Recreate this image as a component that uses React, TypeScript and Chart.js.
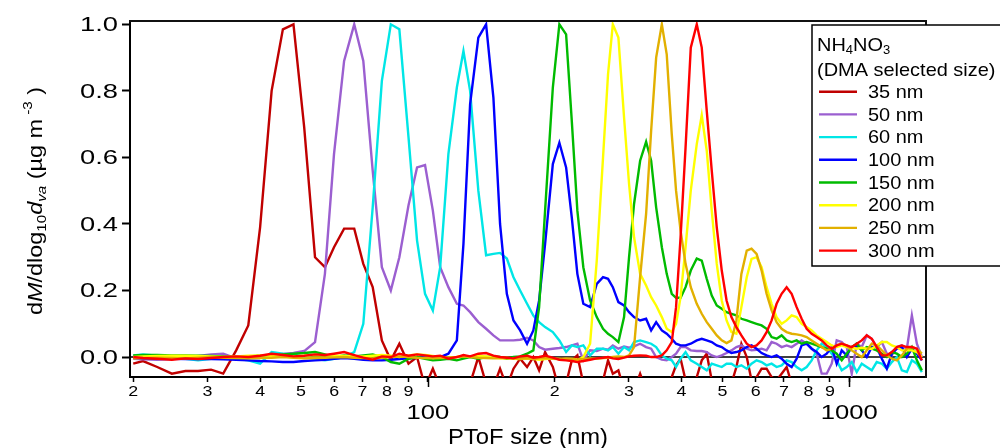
import React, { useEffect, useRef } from "react";
import { Chart, registerables } from "chart.js";

Chart.register(...registerables);

// PToF size bins (nm)
const sizes = [
  20.0, 21.1, 22.8, 24.7, 26.6, 28.5, 30.6, 32.7, 35.1, 37.5,
  40.0, 42.6, 45.3, 48.0, 50.9, 54.0, 57.0, 59.9, 63.3, 66.9,
  70.3, 74.0, 77.8, 81.7, 85.6, 90.0, 94.3, 98.5, 102.8, 107.0,
  111.9, 117.2, 121.5, 126.0, 131.8, 137.5, 143.1, 148.4, 154.0, 159.7,
  165.6, 172.0, 178.0, 183.7, 189.8, 198.0, 205.2, 212.9, 219.6, 226.4,
  233.9, 242.7, 251.7, 260.5, 267.7, 274.8, 283.3, 292.2, 300.3, 308.6,
  319.0, 329.6, 338.8, 348.2, 359.2, 368.9, 379.2, 388.2, 397.9, 408.9,
  420.7, 434.7, 446.7, 459.1, 471.8, 484.9, 498.3, 511.6, 525.3, 539.8,
  554.7, 571.2, 586.3, 602.7, 619.5, 636.6, 654.3, 672.4, 691.1, 710.3,
  730.0, 750.2, 771.0, 792.4, 814.4, 837.0, 860.2, 884.1, 908.6, 933.8,
  959.7, 986.3, 1013.7, 1041.8, 1070.7, 1100.4, 1131, 1162, 1195, 1228,
  1262, 1297, 1333, 1370, 1408, 1447, 1487,
];

const s35 = [
  -0.02, -0.012, -0.03, -0.05, -0.042, -0.042, -0.038, -0.05, 0.02, 0.095,
  0.39, 0.8, 0.985, 1.0, 0.69, 0.3, 0.27, 0.33, 0.386, 0.386,
  0.28, 0.21, 0.05, -0.01, 0.04, -0.02, 0.0, -0.09, -0.035, -0.09,
  -0.1, -0.09, -0.1, -0.08, 0.0, -0.08, -0.09, -0.035, -0.09, -0.035,
  -0.005, -0.03, 0.0, -0.04, 0.015, -0.03, -0.1, -0.08, -0.01, 0.005,
  -0.08, -0.1, -0.09, -0.07, -0.01, -0.05, -0.04, -0.1, -0.09, -0.1,
  -0.05, -0.1, -0.1, -0.09, -0.1, -0.08, -0.06, -0.025, -0.005, -0.07,
  -0.09, -0.06, -0.01, 0.01, -0.07, -0.1, -0.09, -0.1, -0.08, -0.03,
  0.04, 0.0, -0.07, -0.06, -0.035, -0.035, -0.06, -0.07, -0.05, -0.03,
  -0.08, -0.1, -0.11, -0.1, -0.12, -0.1, -0.11, -0.12, -0.1, -0.11,
  -0.1, -0.12, -0.11, -0.1, -0.12, -0.11, -0.1, -0.12, -0.11, -0.1,
  -0.12, -0.1, -0.11, -0.12, -0.1, -0.11, -0.12,
];

const s50 = [
  -0.005, -0.007, -0.008, -0.006, -0.002, 0.003, 0.008, 0.01, -0.004, 0.0,
  0.002, 0.005, 0.009, 0.012, 0.018, 0.045, 0.25, 0.61, 0.89, 1.0,
  0.89, 0.56, 0.27, 0.2, 0.3, 0.456, 0.57, 0.577, 0.44, 0.27,
  0.21, 0.16, 0.155, 0.135, 0.105, 0.085, 0.065, 0.05, 0.05, 0.05,
  0.052, 0.058, 0.05, 0.03, 0.022, 0.025, 0.027, 0.03, 0.035, 0.04,
  -0.01, 0.02, 0.018, 0.025, 0.022, 0.035, 0.025, 0.032, 0.028, 0.032,
  0.04, 0.03, 0.025, 0.0, -0.008, -0.01, 0.0, 0.01, 0.03, 0.03,
  0.02, 0.018, 0.018, 0.015, 0.005, 0.0, 0.005, 0.012, 0.02, 0.03,
  0.035, 0.025, 0.02, 0.022, 0.025, 0.02, 0.045, 0.04, 0.03, 0.035,
  0.03, 0.04, 0.05, 0.04, 0.025, 0.01, -0.05, -0.05, -0.02, 0.05,
  0.045, 0.03, -0.05, 0.04, 0.03, 0.065, 0.055, 0.03, 0.045, 0.01,
  0.005, 0.03, 0.035, 0.025, 0.125, 0.04, 0.0,
];

const s60 = [
  0.005, 0.008, 0.004, 0.0, -0.005, -0.01, -0.005, 0.0, -0.005, -0.01,
  -0.02, 0.015, 0.01, 0.008, 0.0, -0.005, -0.01, -0.005, 0.0, 0.015,
  0.1, 0.45, 0.83, 1.0, 0.985, 0.66, 0.35, 0.19, 0.14, 0.27,
  0.61, 0.81, 0.92, 0.8, 0.5, 0.306, 0.31, 0.313, 0.296, 0.24,
  0.2, 0.16, 0.125, 0.105, 0.09, 0.075, 0.05, 0.015, 0.035, 0.03,
  0.035, 0.005, 0.025, 0.025, 0.02, 0.03, 0.01, 0.03, 0.02, 0.045,
  0.05, 0.045, 0.04, 0.03, 0.005, -0.005, -0.01, -0.03, -0.005, 0.015,
  -0.01, -0.02, -0.03, -0.04, -0.02, -0.025, -0.03, -0.02, -0.02, -0.03,
  -0.025, -0.035, -0.02, -0.01, -0.015, -0.025, -0.02, -0.03, -0.025, -0.01,
  -0.015, -0.03, -0.04, -0.03, -0.01, 0.02, 0.04, 0.03, 0.01, -0.01,
  -0.04, -0.03, -0.015, -0.045, -0.02, -0.03, -0.04, -0.015, -0.02, -0.035,
  -0.015, 0.0, -0.04, -0.045, -0.01, -0.02, -0.045,
];

const s100 = [
  -0.002, -0.004, -0.005, -0.005, -0.006, -0.005, -0.006, -0.007, -0.008, -0.01,
  -0.012, -0.013, -0.015, -0.015, -0.012, -0.01, -0.008, -0.005, -0.003, -0.005,
  -0.008, -0.01, -0.01, -0.008, -0.006, -0.004, -0.002, 0.0, 0.0, 0.0,
  0.01, 0.05, 0.34, 0.76, 0.96, 1.0, 0.78, 0.4, 0.19, 0.11,
  0.08, 0.04, 0.08, 0.17, 0.34, 0.58, 0.644, 0.57, 0.42, 0.25,
  0.16, 0.15, 0.22, 0.24, 0.235, 0.21, 0.165, 0.155, 0.135, 0.12,
  0.11, 0.115, 0.08, 0.105, 0.08, 0.07, 0.055, 0.04, 0.035, 0.035,
  0.04, 0.05, 0.055, 0.05, 0.045, 0.035, 0.03, 0.02, 0.012, 0.015,
  0.02, 0.03, 0.035, 0.025, 0.012, 0.005, 0.0, 0.005, -0.005, -0.02,
  -0.03, -0.005, 0.035, 0.04, 0.025, 0.015, 0.0, 0.01, 0.03, -0.02,
  0.02, 0.005, 0.03, 0.035, 0.02, 0.0, 0.03, 0.03, -0.005, -0.035,
  0.01, 0.025, 0.03, 0.0, 0.025, 0.01, -0.01,
];

const s150 = [
  0.005, 0.006, 0.006, 0.005, 0.005, 0.004, 0.003, 0.002, 0.0, 0.002,
  0.004, 0.005, 0.008, 0.01, 0.012, 0.015, 0.008, 0.0, 0.005, 0.002,
  0.005, 0.008, 0.0, -0.015, -0.02, -0.005, 0.0, -0.005, -0.01, -0.008,
  -0.005, -0.01, -0.005, 0.0, -0.005, 0.0, 0.002, 0.0, -0.005, 0.0,
  0.002, 0.01, 0.02, 0.15, 0.44, 0.81, 1.0, 0.97, 0.71, 0.44,
  0.27, 0.17, 0.12, 0.085, 0.07, 0.06, 0.045, 0.12, 0.3, 0.46,
  0.59, 0.647, 0.59, 0.45, 0.33, 0.25, 0.19, 0.178, 0.178, 0.21,
  0.26, 0.296, 0.29, 0.235, 0.185, 0.155, 0.145, 0.135, 0.13, 0.125,
  0.115, 0.11, 0.105, 0.1, 0.095, 0.085, 0.06, 0.055, 0.065, 0.05,
  0.045, 0.05, 0.04, 0.045, 0.04, 0.035, 0.03, 0.025, 0.02, 0.01,
  -0.01, 0.01, 0.03, 0.04, 0.02, 0.03, 0.025, 0.02, 0.01, 0.0,
  0.015, 0.01, 0.0, 0.01, 0.03, -0.01, -0.04,
];

const s200 = [
  0.0, 0.002, 0.003, 0.004, 0.004, 0.003, 0.002, 0.0, 0.002, 0.004,
  0.005, 0.004, 0.003, 0.002, 0.004, 0.006, 0.005, 0.004, 0.003, 0.002,
  0.002, 0.004, 0.006, 0.004, 0.0, 0.005, 0.008, 0.006, 0.003, 0.0,
  -0.002, 0.0, 0.003, 0.002, 0.004, 0.002, -0.002, -0.004, -0.003, -0.005,
  -0.006, -0.004, -0.005, -0.008, -0.006, -0.004, -0.006, -0.008, -0.01, -0.01,
  0.0, 0.04, 0.29, 0.6, 0.85, 1.0, 0.96, 0.72, 0.52, 0.36,
  0.25, 0.215, 0.18, 0.155, 0.12, 0.085, 0.075, 0.1, 0.18, 0.33,
  0.5, 0.64, 0.727, 0.62, 0.44, 0.28, 0.17, 0.11, 0.075, 0.07,
  0.15, 0.24, 0.295, 0.3, 0.27, 0.21, 0.16, 0.12, 0.1, 0.11,
  0.125, 0.12, 0.1, 0.09, 0.08, 0.065, 0.055, 0.045, 0.035, 0.03,
  0.035, 0.03, 0.028, 0.025, 0.028, 0.025, 0.025, 0.035, 0.045, 0.045,
  0.035, 0.03, 0.02, 0.02, 0.02, 0.015, 0.0,
];

const s250 = [
  -0.004, -0.003, -0.002, -0.003, -0.004, -0.002, 0.0, -0.002, -0.003, -0.004,
  -0.003, -0.002, 0.0, -0.002, -0.004, -0.003, -0.002, -0.001, 0.0, -0.002,
  -0.003, -0.004, -0.002, 0.0, 0.002, 0.0, -0.002, -0.003, -0.004, -0.003,
  -0.002, 0.0, 0.002, 0.0, -0.002, -0.003, -0.004, -0.003, -0.002, -0.004,
  -0.005, -0.004, -0.006, -0.004, -0.003, -0.005, -0.006, -0.004, -0.005, -0.007,
  -0.006, -0.004, -0.005, -0.003, -0.002, 0.0, 0.002, 0.0, 0.005, 0.03,
  0.24, 0.43, 0.68, 0.9, 1.0, 0.91, 0.67, 0.5, 0.38, 0.28,
  0.21, 0.16, 0.13, 0.105, 0.085, 0.065, 0.05, 0.042, 0.05, 0.11,
  0.25, 0.32, 0.326, 0.31, 0.26, 0.19, 0.14, 0.105, 0.085, 0.075,
  0.07, 0.068, 0.065, 0.06, 0.05, 0.04, 0.03, 0.02, 0.025, 0.035,
  0.04, 0.035, 0.02, 0.01, 0.0, 0.02, 0.04, 0.035, 0.02, 0.005,
  -0.005, -0.01, 0.005, 0.025, 0.03, 0.025, 0.01,
];

const s300 = [
  0.0, -0.003, -0.005, -0.008, -0.004, -0.006, -0.003, 0.0, 0.002, 0.0,
  0.004, 0.01, 0.006, 0.002, 0.004, 0.008, 0.006, 0.01, 0.015, 0.006,
  -0.002, -0.008, 0.002, 0.0, 0.01, 0.004, 0.008, 0.005, 0.002, 0.004,
  -0.005, 0.0, 0.006, 0.002, 0.01, 0.012, 0.004, 0.0, -0.002, -0.004,
  0.002, 0.004, -0.002, 0.0, 0.004, -0.002, -0.008, -0.01, -0.012, -0.015,
  -0.012, -0.008, -0.004, -0.002, 0.0, -0.004, -0.006, -0.002, 0.002, 0.004,
  0.005, 0.004, 0.0, 0.0, 0.005, 0.02, 0.045, 0.15, 0.36, 0.63,
  0.93, 1.0, 0.93, 0.74, 0.56, 0.39, 0.26, 0.17, 0.12, 0.09,
  0.065, 0.04, 0.03, 0.035, 0.05, 0.075, 0.11, 0.16, 0.19, 0.21,
  0.19, 0.15, 0.115, 0.085, 0.07, 0.06, 0.05, 0.035, 0.025, 0.035,
  0.04, 0.035, 0.03, 0.04, 0.05, 0.065, 0.055, 0.03, 0.005, 0.005,
  0.015, 0.03, 0.035, 0.03, 0.03, 0.025, -0.01,
];

const seriesLabels = ["35 nm", "50 nm", "60 nm", "100 nm", "150 nm", "200 nm", "250 nm", "300 nm"];
const seriesValues = [s35, s50, s60, s100, s150, s200, s250, s300];
const seriesColors = ["#c00000", "#9b5fd0", "#00e6e6", "#0000ff", "#00bb00", "#ffff00", "#e2b000", "#ff0000"];

const xTickValues = [20, 30, 40, 50, 60, 70, 80, 90, 100, 200, 300, 400, 500, 600, 700, 800, 900, 1000];
const yTickValues = [0, 0.2, 0.4, 0.6, 0.8, 1.0];

const FONT = '"Liberation Sans", Arial, Helvetica, sans-serif';

type Seg = { t: string; s: number; it?: boolean; dy?: number };

function segFont(seg: Seg) {
  return `${seg.it ? "italic " : ""}${seg.s}px ${FONT}`;
}

function drawRich(ctx: CanvasRenderingContext2D, segs: Seg[], x: number, y: number, sx: number | null, target: number | null, align: string) {
  let total = 0;
  for (const sg of segs) {
    ctx.font = segFont(sg);
    total += ctx.measureText(sg.t).width;
  }
  const scale = target != null ? target / total : (sx as number);
  const w = total * scale;
  const x0 = align === "center" ? x - w / 2 : align === "right" ? x - w : x;
  ctx.save();
  ctx.translate(x0, y);
  ctx.scale(scale, 1);
  ctx.textAlign = "left";
  let cx = 0;
  for (const sg of segs) {
    ctx.font = segFont(sg);
    ctx.fillText(sg.t, cx, sg.dy || 0);
    cx += ctx.measureText(sg.t).width;
  }
  ctx.restore();
}

const decorPlugin = {
  id: "decor",
  beforeDatasetsDraw(chart: any) {
    const ctx = chart.ctx as CanvasRenderingContext2D;
    const { left, right } = chart.chartArea;
    const y0 = chart.scales.y.getPixelForValue(0);
    ctx.save();
    ctx.strokeStyle = "#000";
    ctx.lineWidth = 1.5;
    ctx.beginPath();
    ctx.moveTo(left, y0);
    ctx.lineTo(right, y0);
    ctx.stroke();
    ctx.restore();
  },
  afterDraw(chart: any) {
    const ctx = chart.ctx as CanvasRenderingContext2D;
    const { left, right, top, bottom } = chart.chartArea;
    const xs = chart.scales.x;
    const ys = chart.scales.y;
    ctx.save();
    // top and right frame
    ctx.strokeStyle = "#111";
    ctx.lineWidth = 2;
    ctx.beginPath();
    ctx.moveTo(left - 1, top);
    ctx.lineTo(right, top);
    ctx.lineTo(right, bottom + 1);
    ctx.stroke();
    // longer ticks for decades
    ctx.strokeStyle = "#000";
    ctx.lineWidth = 1.5;
    for (const v of xTickValues) {
      const e = Math.floor(Math.log10(v) + 1e-9);
      if (Math.round(v / Math.pow(10, e)) === 1) {
        const px = Math.round(xs.getPixelForValue(v)) + 0.5;
        ctx.beginPath();
        ctx.moveTo(px, bottom);
        ctx.lineTo(px, bottom + 10);
        ctx.stroke();
      }
    }
    ctx.fillStyle = "#000";
    ctx.textBaseline = "middle";
    // y tick labels
    for (const v of yTickValues) {
      drawRich(ctx, [{ t: v.toFixed(1), s: 21 }], left - 12, ys.getPixelForValue(v) + 1, 1.3, null, "right");
    }
    // x tick labels
    for (const v of xTickValues) {
      const px = xs.getPixelForValue(v);
      const e = Math.floor(Math.log10(v) + 1e-9);
      const m = Math.round(v / Math.pow(10, e));
      if (m === 1) {
        drawRich(ctx, [{ t: String(v), s: 21 }], px, 413, 1.22, null, "center");
      } else {
        drawRich(ctx, [{ t: String(m), s: 15.5 }], px, 392, 1.15, null, "center");
      }
    }
    // x title
    ctx.textBaseline = "alphabetic";
    drawRich(ctx, [{ t: "PToF size (nm)", s: 22 }], (left + right) / 2, 444, null, 160, "center");
    // y title (rotated)
    ctx.save();
    ctx.translate(42, 201);
    ctx.rotate(-Math.PI / 2);
    const fs = 20;
    drawRich(
      ctx,
      [
        { t: "d", s: fs },
        { t: "M", s: fs, it: true },
        { t: "/dlog", s: fs },
        { t: "10", s: fs * 0.65, dy: fs * 0.22 },
        { t: "d", s: fs, it: true },
        { t: "va", s: fs * 0.65, it: true, dy: fs * 0.22 },
        { t: " (\u00b5g m", s: fs },
        { t: " -3", s: fs * 0.65, dy: -fs * 0.5 },
        { t: " )", s: fs },
      ],
      0,
      0,
      null,
      228,
      "center"
    );
    ctx.restore();

    // legend
    const lx = 812;
    const ly = 25;
    ctx.fillStyle = "#fff";
    ctx.fillRect(lx, ly, 200, 241);
    ctx.strokeStyle = "#000";
    ctx.lineWidth = 1.5;
    ctx.strokeRect(lx, ly, 200, 241);
    ctx.fillStyle = "#000";
    ctx.textBaseline = "middle";
    const lf = 19;
    drawRich(
      ctx,
      [
        { t: "NH", s: lf },
        { t: "4", s: lf * 0.65, dy: lf * 0.25 },
        { t: "NO", s: lf },
        { t: "3", s: lf * 0.65, dy: lf * 0.25 },
      ],
      lx + 5,
      46,
      1.05,
      null,
      "left"
    );
    drawRich(ctx, [{ t: "(DMA selected size)", s: lf }], lx + 5, 70.5, 1.05, null, "left");
    chart.data.datasets.forEach((ds: any, i: number) => {
      const yy = 91.7 + i * 22.7;
      ctx.strokeStyle = ds.borderColor;
      ctx.lineWidth = 2.4;
      ctx.beginPath();
      ctx.moveTo(lx + 7, yy);
      ctx.lineTo(lx + 45, yy);
      ctx.stroke();
      ctx.fillStyle = "#000";
      drawRich(ctx, [{ t: ds.label, s: lf }], lx + 56, yy + 1, 1.05, null, "left");
    });
    ctx.restore();
  },
};

export default function App() {
  const ref = useRef<HTMLCanvasElement>(null);
  useEffect(() => {
    if (!ref.current) return;
    const datasets = seriesValues.map((vals, i) => ({
      label: seriesLabels[i],
      data: sizes.map((x, j) => ({ x, y: vals[j] })),
      borderColor: seriesColors[i],
      backgroundColor: seriesColors[i],
      borderWidth: 2.4,
      pointRadius: 0,
      tension: 0,
      fill: false,
      clip: 0,
      order: seriesValues.length - 1 - i,
    }));
    const chart = new Chart(ref.current, {
      type: "line",
      data: { datasets },
      options: {
        responsive: false,
        animation: false,
        devicePixelRatio: 1,
        layout: { padding: { left: 0, top: 21, right: 74, bottom: 0 } },
        plugins: { legend: { display: false }, tooltip: { enabled: false } },
        scales: {
          x: {
            type: "logarithmic",
            min: 19.65,
            max: 1521,
            afterBuildTicks: (axis: any) => {
              axis.ticks = xTickValues.map((v) => ({ value: v }));
            },
            afterFit: (axis: any) => {
              axis.height = 71;
            },
            ticks: { display: false },
            grid: { drawOnChartArea: false, drawTicks: true, tickLength: 5, tickWidth: 1.5, tickColor: "#000" },
            border: { display: true, color: "#000", width: 2 },
          },
          y: {
            type: "linear",
            min: -0.06,
            max: 1.01,
            afterBuildTicks: (axis: any) => {
              axis.ticks = yTickValues.map((v) => ({ value: v }));
            },
            afterFit: (axis: any) => {
              axis.width = 130;
            },
            ticks: { display: false },
            grid: { drawOnChartArea: false, drawTicks: true, tickLength: 8, tickWidth: 2, tickColor: "#000" },
            border: { display: true, color: "#000", width: 2 },
          },
        },
      } as any,
      plugins: [decorPlugin],
    });
    return () => chart.destroy();
  }, []);
  return (
    <div style={{ position: "fixed", left: 0, top: 0, width: 1000, height: 448, background: "#fff" }}>
      <canvas ref={ref} width={1000} height={448} style={{ display: "block", width: 1000, height: 448 }} />
    </div>
  );
}
